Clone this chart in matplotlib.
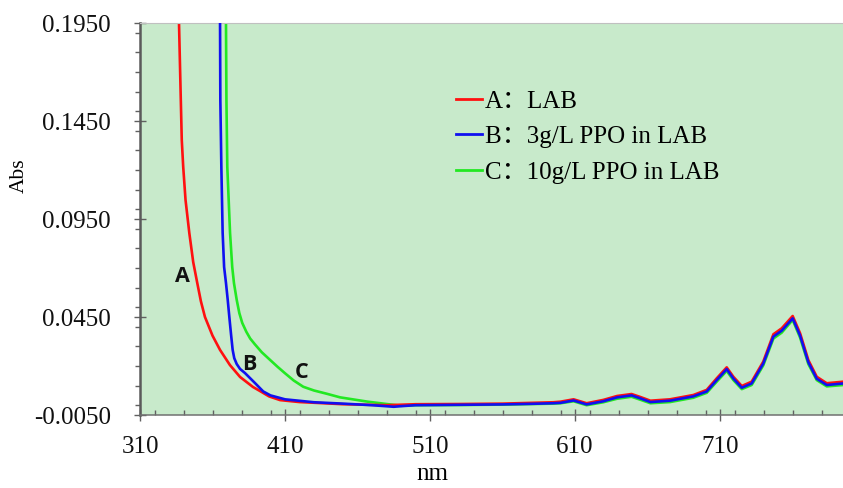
import matplotlib
matplotlib.use("Agg")
import matplotlib.pyplot as plt
from matplotlib.ticker import MultipleLocator, FixedLocator, FormatStrFormatter

# ---- data ----
nm_A = [336.5, 336.9, 338.0, 338.8, 339.8, 341.4, 344.0, 346.7, 349.5, 352.0, 354.8, 360.0, 365.2, 372.0,
        379.0, 387.9, 392.8, 399.0, 406.6, 420.0, 434.1,
        450, 480, 500, 530, 560, 580, 595, 600, 609, 618, 629.5, 639, 649, 655, 662, 675.5,
        691.6, 700.8, 707.7, 714.6, 719.2, 725, 731.8, 739.8, 746.8, 752.5, 760.1, 765.2,
        770.9, 776.7, 783.6, 795]
abs_A = [0.215, 0.195, 0.1600, 0.1353, 0.1216, 0.1047, 0.0879, 0.0730, 0.0623, 0.0530, 0.0450, 0.0355, 0.0282, 0.0205,
         0.0144, 0.0093, 0.0072, 0.0045, 0.0026, 0.0016, 0.0011,
         0.0005, 0.0000, 0.0005, 0.0006, 0.0008, 0.0012, 0.0015, 0.0018, 0.0030, 0.0010, 0.0027, 0.0047,
         0.0057, 0.0042, 0.0023, 0.0030, 0.0052, 0.0078, 0.0137, 0.0193, 0.0145, 0.0098, 0.0120, 0.0222,
         0.0362, 0.0392, 0.0455, 0.0367, 0.0230, 0.0145, 0.0112, 0.0120]

nm_B = [365.0, 365.2, 365.4, 366.1, 367.0, 368.0, 369.3, 370.5, 371.6, 372.8, 373.9, 375.0, 376.7, 379.0,
        382.4, 389.3, 395, 400, 410, 430, 450, 470,
        485, 490, 500, 530, 560, 580, 595, 600, 609, 618, 629.5, 639, 649, 655, 662, 675.5,
        691.6, 700.8, 707.7, 714.6, 719.2, 725, 731.8, 739.8, 746.8, 752.5, 760.1, 765.2,
        770.9, 776.7, 783.6, 795]
abs_B = [0.215, 0.195, 0.1557, 0.1216, 0.0879, 0.0705, 0.0623, 0.0537, 0.0450, 0.0360, 0.0282, 0.0240, 0.0210, 0.0185,
         0.0164, 0.0113, 0.0070, 0.0050, 0.0030, 0.0015, 0.0008, 0.0000,
         -0.0008, -0.0005, 0.0000, 0.0002, 0.0004, 0.0007, 0.0010, 0.0012, 0.0024,
         0.0004, 0.0020, 0.0040, 0.0050, 0.0035, 0.0016, 0.0023, 0.0045, 0.0070, 0.0128, 0.0184, 0.0136,
         0.0089, 0.0111, 0.0212, 0.0350, 0.0380, 0.0443, 0.0355, 0.0219, 0.0135, 0.0103, 0.0111]

nm_C = [369.0, 369.3, 369.6, 370.2, 372.1, 373.6, 374.8, 376.7, 378.5, 380.5, 383.3, 386.0, 389.3, 394.0,
        399.7, 405.0, 410, 416.0, 422.6, 430.0, 439, 448,
        467, 490, 500, 530, 560, 580, 595, 600, 609, 618, 629.5, 639, 649, 655, 662, 675.5,
        691.6, 700.8, 707.7, 714.6, 719.2, 725, 731.8, 739.8, 746.8, 752.5, 760.1, 765.2,
        770.9, 776.7, 783.6, 795]
abs_C = [0.215, 0.195, 0.1557, 0.1216, 0.0879, 0.0705, 0.0623, 0.0537, 0.0470, 0.0420, 0.0375, 0.0340, 0.0310, 0.0270,
         0.0231, 0.0195, 0.0163, 0.0126, 0.0094, 0.0075, 0.0058, 0.0040,
         0.0018, -0.0003, 0.0000, 0.0001, 0.0003, 0.0006, 0.0008, 0.0010, 0.0020, 0.0000,
         0.0015, 0.0033, 0.0043, 0.0028, 0.0010, 0.0016, 0.0038, 0.0063, 0.0120, 0.0175, 0.0128, 0.0082,
         0.0103, 0.0203, 0.0340, 0.0370, 0.0435, 0.0345, 0.0210, 0.0128, 0.0096, 0.0103]

labels = ["A：LAB", "B：3g/L PPO in LAB", "C：10g/L PPO in LAB"]
colors = ["#FF1010", "#1010F0", "#22E822"]
curve_tags = ["A", "B", "C"]
tag_pos_nm = [339.4, 385.2, 421.5]
tag_pos_abs = [0.0656, 0.0210, 0.0166]

x_ticks = [310, 410, 510, 610, 710]
y_ticks = [-0.005, 0.045, 0.095, 0.145, 0.195]

# ---- figure ----
fig = plt.figure(figsize=(8.43, 4.88), dpi=100)
ax = fig.add_axes([140/843, 1 - 415/488, 1 - 140/843, (415 - 23)/488])
ax.set_facecolor("#C8EACB")

lB, = ax.plot(nm_B, abs_B, color=colors[1], lw=1.9, zorder=3)
lC, = ax.plot(nm_C, abs_C, color=colors[2], lw=1.9, zorder=2)
lA, = ax.plot(nm_A, abs_A, color=colors[0], lw=1.9, zorder=2.5)

ax.set_xlim(310, 794.8)
ax.set_ylim(-0.005, 0.195)

serif = ["Liberation Serif", "Noto Sans CJK SC"]
ax.xaxis.set_major_locator(FixedLocator(x_ticks))
ax.xaxis.set_minor_locator(MultipleLocator(20))
ax.yaxis.set_major_locator(FixedLocator(y_ticks))
ax.yaxis.set_minor_locator(MultipleLocator(0.01))
ax.yaxis.set_major_formatter(FormatStrFormatter("%.4f"))

tc = "#606060"
ax.tick_params(axis="y", which="major", direction="inout", length=8.6, width=1.0, color=tc, pad=16.5)
ax.tick_params(axis="y", which="minor", direction="out", length=3.6, width=1.0, color=tc)
ax.tick_params(axis="x", which="major", direction="inout", length=8.6, width=1.0, color=tc, pad=11)
ax.tick_params(axis="x", which="minor", direction="in", length=3.6, width=1.0, color=tc)
for lab in ax.get_xticklabels() + ax.get_yticklabels():
    lab.set_fontfamily(serif)
    lab.set_fontsize(18)
    lab.set_color("#111111")

ax.spines["left"].set_color("#5A5A5A")
ax.spines["left"].set_linewidth(1.8)
ax.spines["bottom"].set_color("#707070")
ax.spines["bottom"].set_linewidth(1.1)
ax.spines["top"].set_color("#C0C0C0")
ax.spines["top"].set_linewidth(0.8)
ax.spines["right"].set_visible(False)

ax.set_xlabel("nm", fontfamily=serif, fontsize=18)
ax.set_ylabel("Abs", fontfamily=serif, fontsize=15.5)
ax.yaxis.set_label_coords(-(140 - 19) / 703, (415 - 176) / 392)
ax.xaxis.set_label_coords((432 - 140) / 703, -(473.5 - 415) / 392)
ax.xaxis.label.set_va("center")
ax.yaxis.label.set_va("center")

for t, xn, ya in zip(curve_tags, tag_pos_nm, tag_pos_abs):
    ax.text(xn, ya, t, fontfamily="Open Sans", fontweight="bold", fontsize=15.5,
            ha="center", va="center", color="#111111", zorder=5)

leg = ax.legend([lA, lB, lC], labels, loc="upper left",
                bbox_to_anchor=((456 - 140) / 703, (415 - 90) / 392),
                frameon=False, handlelength=1.05, handletextpad=0.1,
                labelspacing=0.52, borderaxespad=0, borderpad=0,
                prop={"family": serif, "size": 18})
for line in leg.get_lines():
    line.set_linewidth(2.0)

fig.savefig("out.png", dpi=100)
